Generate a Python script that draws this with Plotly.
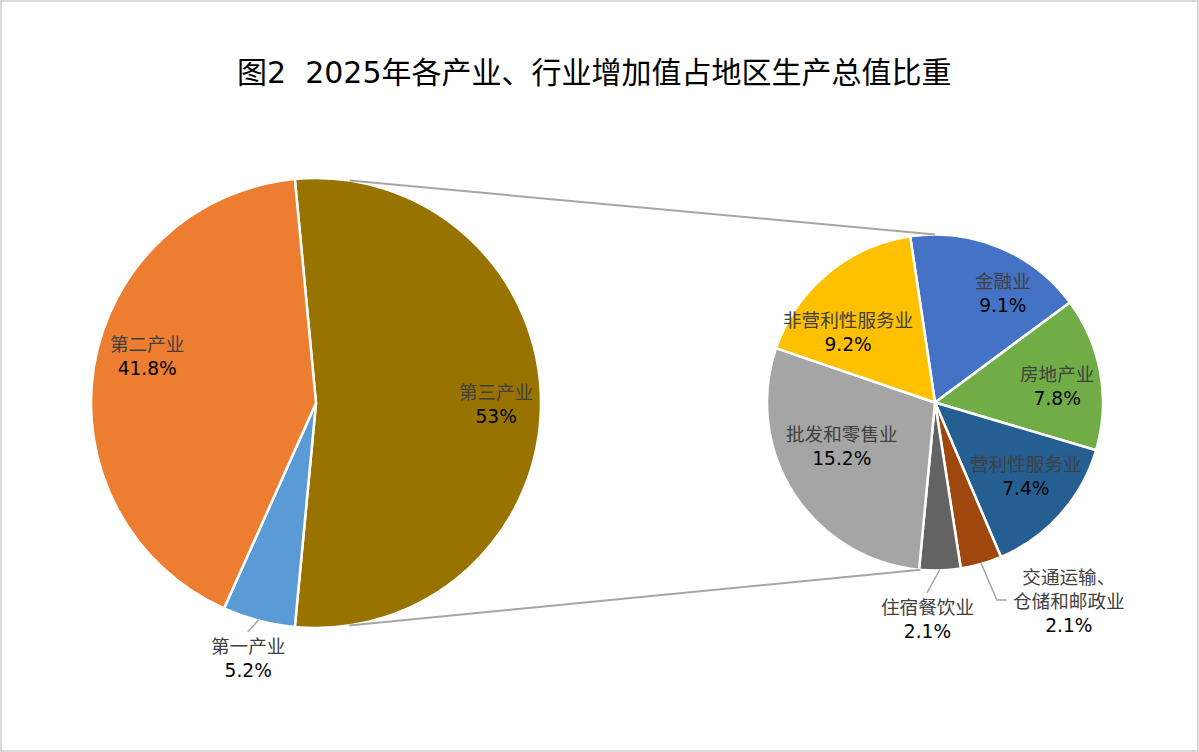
import math
import plotly.graph_objects as go

# ---------------- data ----------------
main_labels = ["第三产业", "第一产业", "第二产业"]
main_values = [53.0, 5.2, 41.8]
main_text = ["53%", "5.2%", "41.8%"]

sub_labels = ["金融业", "房地产业", "营利性服务业", "交通运输、<br>仓储和邮政业",
              "住宿餐饮业", "批发和零售业", "非营利性服务业"]
sub_values = [9.1, 7.8, 7.4, 2.1, 2.1, 15.2, 9.2]
sub_text = ["9.1%", "7.8%", "7.4%", "2.1%", "2.1%", "15.2%", "9.2%"]

main_colors = ["#997300", "#5B9BD5", "#ED7D31"]
sub_colors = ["#4472C4", "#70AD47", "#255E91", "#9E480E", "#636363", "#A5A5A5", "#FFC000"]

title = "图2\u00a0\u00a02025年各产业、行业增加值占地区生产总值比重"

# ---------------- geometry / style ----------------
W, H = 1199, 752
FONT = "DejaVu Sans, Noto Sans CJK SC, sans-serif"
C1, R1 = (316.0, 403.0), 225.0
C2, R2 = (935.0, 402.5), 168.0
rot1 = 90 - 180 * main_values[0] / sum(main_values)
rot2 = -8.5
LABEL_SIZE = 18.6


def P(x, y):
    return x / W, 1 - y / H


def polar(c, r, ang):
    a = math.radians(ang)
    return c[0] + r * math.sin(a), c[1] - r * math.cos(a)


def mids(values, rot):
    tot = sum(values)
    out, cur = [], rot
    for v in values:
        span = 360 * v / tot
        out.append(cur + span / 2)
        cur += span
    return out


def dom(c, r):
    return dict(x=[(c[0] - r) / W, (c[0] + r) / W], y=[1 - (c[1] + r) / H, 1 - (c[1] - r) / H])


fig = go.Figure()
fig.add_trace(go.Pie(labels=main_labels, values=main_values, sort=False, direction="clockwise",
                     rotation=rot1, marker=dict(colors=main_colors, line=dict(color="white", width=2.5)),
                     textinfo="none", hoverinfo="label+percent", showlegend=False, domain=dom(C1, R1)))
fig.add_trace(go.Pie(labels=sub_labels, values=sub_values, sort=False, direction="clockwise",
                     rotation=rot2, marker=dict(colors=sub_colors, line=dict(color="white", width=2.5)),
                     textinfo="none", hoverinfo="label+value", showlegend=False, domain=dom(C2, R2)))

annotations = []
shapes = []


def lab(name, val):
    return "<span style='color:#404040'>%s</span><br>%s" % (name, val)


def add_label(x, y, text):
    px, py = P(x, y)
    annotations.append(dict(x=px, y=py, xref="paper", yref="paper", text=text, showarrow=False,
                            xanchor="center", yanchor="middle", align="center",
                            font=dict(family=FONT, size=LABEL_SIZE, color="black")))


def add_line(pts, color="#A6A6A6", width=1.5):
    path = "M " + " L ".join("%f,%f" % P(x, y) for x, y in pts)
    shapes.append(dict(type="path", path=path, xref="paper", yref="paper",
                       line=dict(color=color, width=width)))


# label placement nudges (angle offset, radius fraction) -- style only
main_nudge = {0: (0.5, 0.80), 2: (6.0, 0.78)}
sub_nudge = {0: (9.5, 0.765), 1: (2.7, 0.73), 2: (-2.6, 0.70), 5: (7.6, 0.61), 6: (-11.3, 0.665)}

m1 = mids(main_values, rot1)
for i, (dang, f) in main_nudge.items():
    x, y = polar(C1, R1 * f, m1[i] + dang)
    add_label(x, y, lab(main_labels[i], main_text[i]))

m2 = mids(sub_values, rot2)
for i, (dang, f) in sub_nudge.items():
    x, y = polar(C2, R2 * f, m2[i] + dang)
    add_label(x, y, lab(sub_labels[i], sub_text[i]))

# outside labels with leader lines
p0 = polar(C1, R1 - 1, m1[1])
p1 = polar(C1, R1 + 14, m1[1] + 1.8)
add_line([p0, p1])
add_label(p1[0], p1[1] + 26, lab(main_labels[1], main_text[1]))

q0 = polar(C2, R2 - 1, m2[4])
q1 = polar(C2, R2 + 22.6, m2[4] + 4.1)
add_line([q0, q1])
add_label(q1[0], q1[1] + 27, lab(sub_labels[4], sub_text[4]))

t0 = polar(C2, R2 - 1, m2[3])
t1 = polar(C2, R2 + 39, m2[3] - 1.4)
add_line([t0, t1, (t1[0] + 10, t1[1])])
add_label(t1[0] + 72, t1[1] + 1, lab(sub_labels[3], sub_text[3]))

# connector lines between the pies
add_line([polar(C1, R1, 8.6), polar(C2, R2, 0)], width=2)
add_line([polar(C1, R1, 171.5), polar(C2, R2, 185)], width=2)

# outer border
shapes.append(dict(type="rect", xref="paper", yref="paper", x0=1 / W, x1=1 - 1 / W,
                   y0=1 / H, y1=1 - 1 / H, line=dict(color="#D9D9D9", width=2)))

tx, ty = P(594, 73)
annotations.append(dict(x=tx, y=ty, xref="paper", yref="paper", text=title, showarrow=False,
                        xanchor="center", yanchor="middle",
                        font=dict(family=FONT, size=30, color="black")))

fig.update_layout(width=W, height=H, margin=dict(l=0, r=0, t=0, b=0),
                  paper_bgcolor="white", plot_bgcolor="white",
                  annotations=annotations, shapes=shapes)

fig.write_html("out.html", config={"displayModeBar": False},
               post_script="document.body.style.margin='0';document.body.style.padding='0';"
                           "document.body.style.overflow='hidden';")
